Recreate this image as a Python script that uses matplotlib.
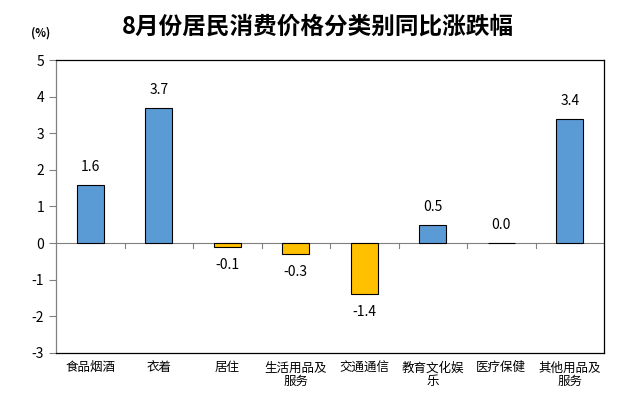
import matplotlib
matplotlib.use("Agg")
import matplotlib.pyplot as plt

plt.rcParams['font.family'] = ['Noto Sans CJK SC', 'DejaVu Sans']

categories = ["食品烟酒", "衣着", "居住", "生活用品及\n服务", "交通通信", "教育文化娱\n乐", "医疗保健", "其他用品及\n服务"]
values = [1.6, 3.7, -0.1, -0.3, -1.4, 0.5, 0.0, 3.4]
yticks = [-3, -2, -1, 0, 1, 2, 3, 4, 5]
title = "8月份居民消费价格分类别同比涨跌幅"
unit = "(%)"

blue = "#5B9BD5"
gold = "#FFC000"

fig = plt.figure(figsize=(6.43, 4.11), dpi=100)
ax = fig.add_axes([56/643, 1 - 353/411, (604-56)/643, (353-60)/411])

n = len(categories)
x = list(range(n))
colors = [blue if v >= 0 else gold for v in values]
ax.bar(x, values, width=0.4, color=colors, edgecolor="black", linewidth=0.8, zorder=3)

for xi, v in zip(x, values):
    if v >= 0:
        ax.text(xi, v + 0.3, f"{v:.1f}", ha="center", va="bottom", fontsize=10)
    else:
        ax.text(xi, v - 0.3, f"{v:.1f}", ha="center", va="top", fontsize=10)

ax.set_xlim(-0.5, n - 0.5)
ax.set_ylim(-3, 5)
ax.set_yticks(yticks)
ax.set_yticklabels([str(t) for t in yticks], fontsize=10)
ax.tick_params(axis='y', direction='out', length=5, color='#808080', width=0.8)

# zero line with boundary ticks
ax.axhline(0, color='#808080', linewidth=0.8, zorder=2)
for b in range(1, n):
    ax.plot([b - 0.5, b - 0.5], [0, -0.12], color='#808080', linewidth=0.8, zorder=2)

ax.set_xticks(x)
ax.set_xticklabels(categories, fontsize=9, linespacing=1.1)
ax.tick_params(axis='x', length=0, pad=6)

ax.spines['left'].set_color('#808080')
ax.spines['bottom'].set_color('black')
ax.spines['top'].set_color('black')
ax.spines['right'].set_color('black')
for s in ax.spines.values():
    s.set_linewidth(0.9)

fig.text(318/643, 1 - 27/411, title, ha="center", va="center", fontsize=17, fontweight="bold")
fig.text(41/643, 1 - 33/411, unit, ha="center", va="center", fontsize=8, fontweight="bold")

fig.savefig("out.png", dpi=100)
